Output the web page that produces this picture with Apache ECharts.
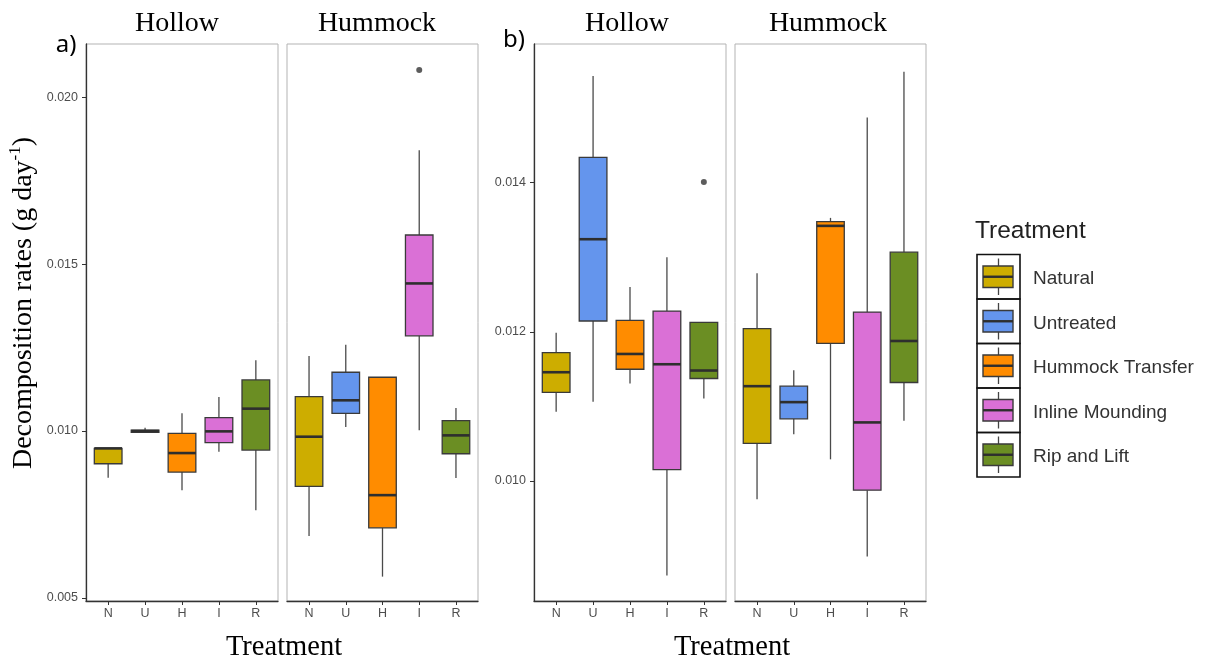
<!DOCTYPE html>
<html>
<head>
<meta charset="utf-8">
<script src="https://cdn.jsdelivr.net/npm/echarts@6/dist/echarts.min.js"></script>
<style>html,body{margin:0;padding:0;background:#fff}#c{width:1208px;height:665px}</style>
</head>
<body>
<div id="c"></div>
<script>
// ---- data ----
const categories = ['N', 'U', 'H', 'I', 'R'];
const treatments = ['Natural', 'Untreated', 'Hummock Transfer', 'Inline Mounding', 'Rip and Lift'];
const colors = ['#CDAD00', '#6495ED', '#FF8C00', '#DA70D6', '#6B8E23'];
const facets = ['Hollow', 'Hummock'];

// each row: [lower whisker, Q1, median, Q3, upper whisker] in category order N,U,H,I,R
const aHollow = [
  [0.00860, 0.00902, 0.00948, 0.00948, 0.00948],
  [0.00995, 0.00996, 0.01000, 0.01003, 0.01010],
  [0.00823, 0.00877, 0.00934, 0.00993, 0.01053],
  [0.00938, 0.00965, 0.00999, 0.01040, 0.01102],
  [0.00763, 0.00943, 0.01067, 0.01153, 0.01212]
];
const aHummock = [
  [0.00686, 0.00834, 0.00983, 0.01103, 0.01225],
  [0.01012, 0.01053, 0.01092, 0.01176, 0.01258],
  [0.00564, 0.00710, 0.00808, 0.01161, 0.01161],
  [0.01002, 0.01285, 0.01442, 0.01587, 0.01841],
  [0.00859, 0.00932, 0.00987, 0.01031, 0.01069]
];
const bHollow = [
  [0.010927, 0.011187, 0.011458, 0.011722, 0.011989],
  [0.011061, 0.012145, 0.013242, 0.014339, 0.015431],
  [0.011307, 0.011498, 0.011703, 0.012154, 0.012600],
  [0.008733, 0.010151, 0.011565, 0.012278, 0.013001],
  [0.011106, 0.011374, 0.011481, 0.012127, 0.012127]
];
const bHummock = [
  [0.009755, 0.010504, 0.011271, 0.012043, 0.012787],
  [0.010625, 0.010833, 0.011057, 0.011271, 0.011485],
  [0.010290, 0.011846, 0.013421, 0.013478, 0.013528],
  [0.008987, 0.009876, 0.010785, 0.012265, 0.014874],
  [0.010807, 0.011320, 0.011877, 0.013068, 0.015489]
];
// outliers: [category, value]
const aHummockOutliers = [['I', 0.02081]];
const bHollowOutliers = [['R', 0.01401]];
const aTicks = [0.005, 0.010, 0.015, 0.020];
const bTicks = [0.010, 0.012, 0.014];

// ---- layout ----
const panels = [
  {left: 86, width: 192, data: aHollow, out: [], yMin: 0.00491, yMax: 0.02159, ticks: aTicks, showY: true},
  {left: 287, width: 191, data: aHummock, out: aHummockOutliers, yMin: 0.00491, yMax: 0.02159, ticks: aTicks, showY: false},
  {left: 534, width: 192, data: bHollow, out: bHollowOutliers, yMin: 0.00839, yMax: 0.01586, ticks: bTicks, showY: true},
  {left: 735, width: 191, data: bHummock, out: [], yMin: 0.00839, yMax: 0.01586, ticks: bTicks, showY: false}
];
const TOP = 44, HEIGHT = 557;
const tickFont = {fontFamily: 'Liberation Sans', fontSize: 12.5, color: '#4d4d4d'};

function renderBox(params, api) {
  const x = api.value(0);
  const lo = api.coord([x, api.value(1)]);
  const q1 = api.coord([x, api.value(2)]);
  const md = api.coord([x, api.value(3)]);
  const q3 = api.coord([x, api.value(4)]);
  const hi = api.coord([x, api.value(5)]);
  const w = api.size([0.75, 0])[0];
  const color = colors[api.value(6)];
  const cx = md[0];
  return {
    type: 'group',
    children: [
      {type: 'line', shape: {x1: cx, y1: lo[1], x2: cx, y2: q1[1]}, style: {stroke: '#4a4a4a', lineWidth: 1.3}},
      {type: 'line', shape: {x1: cx, y1: q3[1], x2: cx, y2: hi[1]}, style: {stroke: '#4a4a4a', lineWidth: 1.3}},
      {type: 'rect', shape: {x: cx - w / 2, y: q3[1], width: w, height: q1[1] - q3[1]},
        style: {fill: color, stroke: '#3a3a3a', lineWidth: 1.3}},
      {type: 'line', shape: {x1: cx - w / 2, y1: md[1], x2: cx + w / 2, y2: md[1]},
        style: {stroke: '#2e2e2e', lineWidth: 2.6}}
    ]
  };
}

const grid = [], xAxis = [], yAxis = [], series = [];
panels.forEach((p, i) => {
  grid.push({left: p.left, top: TOP, width: p.width, height: HEIGHT, show: true,
    borderColor: '#b3b3b3', borderWidth: 1, backgroundColor: 'transparent'});
  xAxis.push({
    type: 'value', gridIndex: i, min: 0.4, max: 5.6,
    axisLine: {show: true, onZero: false, lineStyle: {color: '#333', width: 1.3}},
    axisTick: {show: true, length: 4, customValues: [1, 2, 3, 4, 5], lineStyle: {color: '#333'}},
    axisLabel: Object.assign({customValues: [1, 2, 3, 4, 5], margin: 6,
      formatter: v => categories[Math.round(v) - 1] || ''}, tickFont),
    splitLine: {show: false}
  });
  yAxis.push({
    type: 'value', gridIndex: i, min: p.yMin, max: p.yMax,
    axisLine: {show: p.showY, onZero: false, lineStyle: {color: '#333', width: 1.3}},
    axisTick: {show: p.showY, length: 4, customValues: p.ticks, lineStyle: {color: '#333'}},
    axisLabel: Object.assign({show: p.showY, customValues: p.ticks, margin: 8,
      formatter: v => v.toFixed(3)}, tickFont),
    splitLine: {show: false}
  });
  series.push({
    type: 'custom', xAxisIndex: i, yAxisIndex: i,
    renderItem: renderBox,
    encode: {x: 0, y: [1, 2, 3, 4, 5]},
    data: p.data.map((r, k) => [k + 1, r[0], r[1], r[2], r[3], r[4], k]),
    silent: true
  });
  if (p.out.length) {
    series.push({
      type: 'scatter', xAxisIndex: i, yAxisIndex: i, symbol: 'circle', symbolSize: 6,
      itemStyle: {color: '#333'},
      data: p.out.map(o => [categories.indexOf(o[0]) + 1, o[1]]),
      silent: true
    });
  }
});

// ---- text & legend graphics ----
const serif = 'Liberation Serif';
const graphic = [];
function txt(x, y, text, font, size, align, fill) {
  graphic.push({type: 'text', x: x, y: y, silent: true,
    style: {text: text, fontFamily: font, fontSize: size, fill: fill || '#000', align: align || 'center', verticalAlign: 'middle'}});
}
txt(177, 24, facets[0], serif, 28);
txt(377, 24, facets[1], serif, 28);
txt(627, 24, facets[0], serif, 28);
txt(828, 24, facets[1], serif, 28);
txt(284, 648, 'Treatment', serif, 28.5);
txt(732, 648, 'Treatment', serif, 28.5);
txt(66, 45, 'a)', 'Noto Sans', 24);
txt(514, 40, 'b)', 'Noto Sans', 24);
graphic.push({
  type: 'text', x: 22, y: 303, rotation: Math.PI / 2, silent: true,
  style: {
    text: '{m|Decomposition rates (g day}{s|-1}{m|)}',
    align: 'center', verticalAlign: 'middle',
    rich: {
      m: {fontFamily: serif, fontSize: 28, fill: '#000', lineHeight: 32, verticalAlign: 'bottom'},
      s: {fontFamily: serif, fontSize: 17, fill: '#000', lineHeight: 32, verticalAlign: 'top', padding: [1, 0, 0, 0]}
    }
  }
});
// legend
txt(975, 231, 'Treatment', 'Liberation Sans', 24.5, 'left', '#222');
treatments.forEach((t, i) => {
  const top = 254.5 + i * 44.5;
  graphic.push({type: 'rect', silent: true, shape: {x: 977, y: top, width: 43, height: 44.5},
    style: {fill: 'none', stroke: '#111', lineWidth: 1.6}});
  graphic.push({type: 'line', silent: true, shape: {x1: 998.5, y1: top + 4, x2: 998.5, y2: top + 40.5},
    style: {stroke: '#444', lineWidth: 1.3}});
  graphic.push({type: 'rect', silent: true, shape: {x: 983, y: top + 11.5, width: 30, height: 21.5},
    style: {fill: colors[i], stroke: '#3a3a3a', lineWidth: 1.4}});
  graphic.push({type: 'line', silent: true, shape: {x1: 983, y1: top + 22.25, x2: 1013, y2: top + 22.25},
    style: {stroke: '#2e2e2e', lineWidth: 2.4}});
  txt(1033, top + 24.5, t, 'Liberation Sans', 19, 'left', '#333');
});

const chart = echarts.init(document.getElementById('c'), null, {renderer: 'canvas'});
chart.setOption({
  animation: false,
  backgroundColor: '#fff',
  grid: grid, xAxis: xAxis, yAxis: yAxis, series: series, graphic: graphic
});
</script>
</body>
</html>
